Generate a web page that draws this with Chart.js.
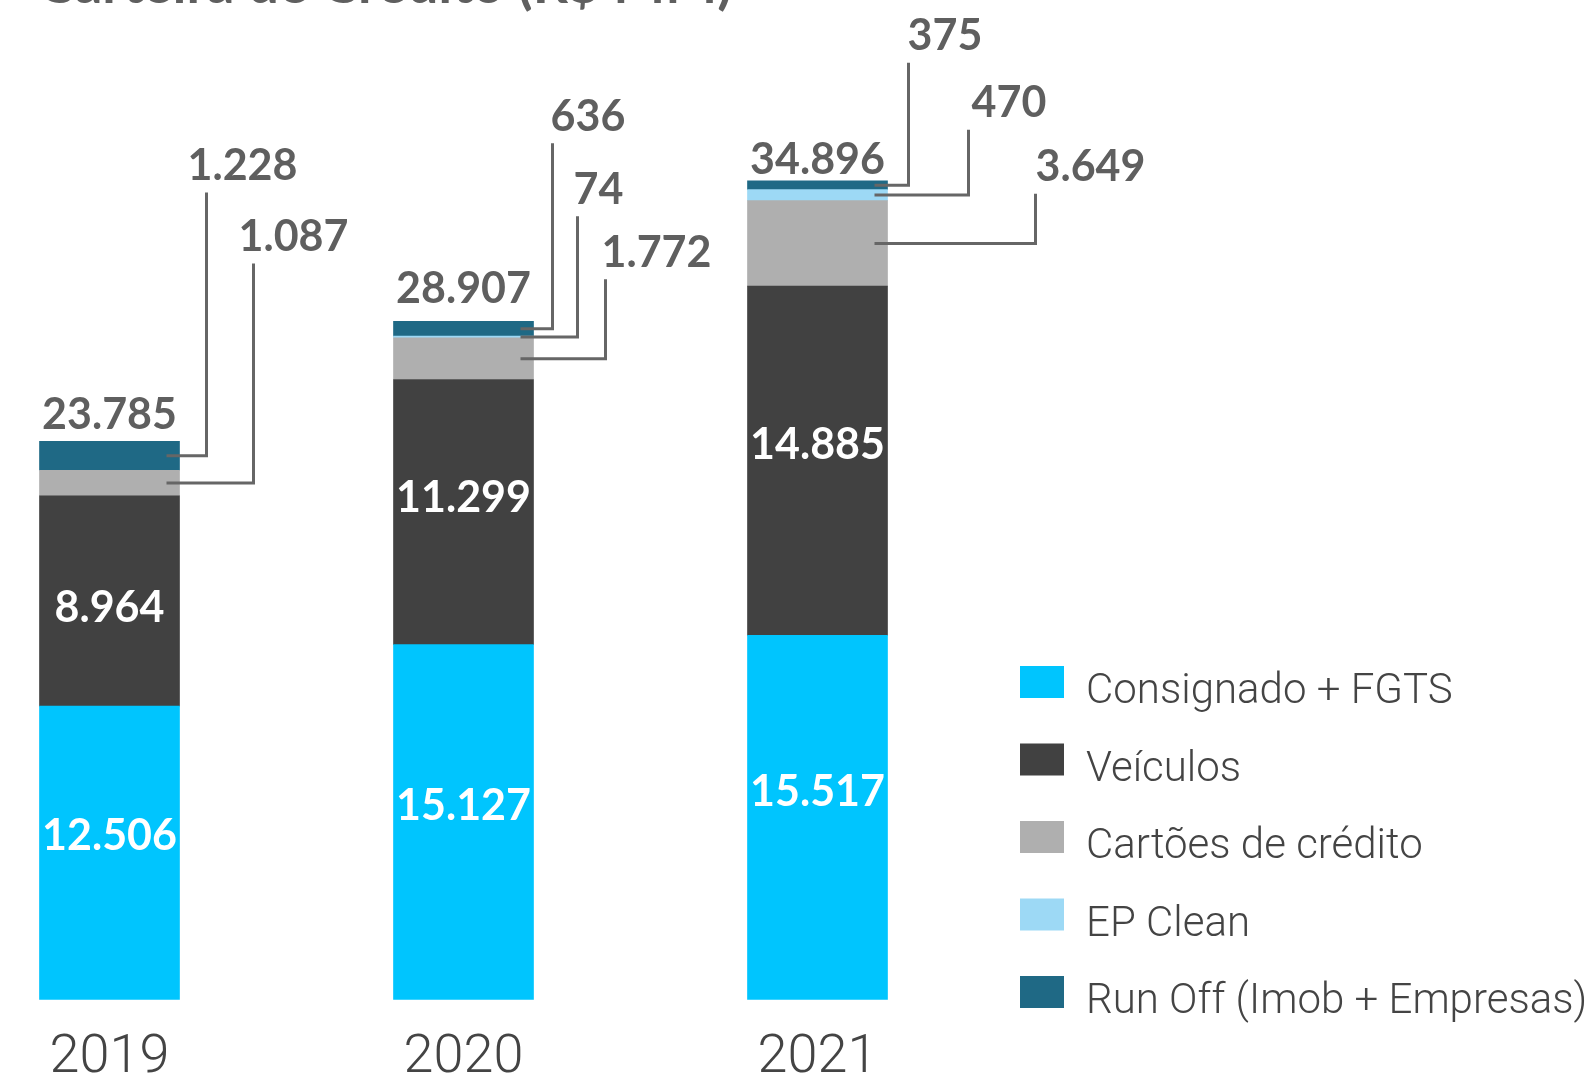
<!DOCTYPE html>
<html><head><meta charset="utf-8">
<style>html,body{margin:0;padding:0;background:#fff;overflow:hidden}
canvas{display:block}</style>
<script src="https://cdn.jsdelivr.net/npm/chart.js@4.4.0/dist/chart.umd.min.js"></script>
</head><body>
<canvas id="c" width="1589" height="1081" style="width:1589px;height:1081px"></canvas>
<script>
// ---- data ----
const years = ['2019', '2020', '2021'];
const seriesNames = ['Consignado + FGTS', 'Veículos', 'Cartões de crédito', 'EP Clean', 'Run Off (Imob + Empresas)'];
const consignado = [12506, 15127, 15517];
const veiculos = [8964, 11299, 14885];
const cartoes = [1087, 1772, 3649];
const epClean = [0, 74, 470];
const runOff = [1228, 636, 375];
const totals = [23785, 28907, 34896];
const chartTitle = 'Carteira de Crédito (R$ MM)';

// ---- style / layout (not data) ----
const colors = ['#00c5fe', '#414141', '#afafaf', '#9dd9f5', '#1f6985'];
const textGray = '#5f5f5f';
const boldFont = 'Lato, "Open Sans", sans-serif';
const lightFont = 'Roboto, "Open Sans", sans-serif';
// leader layout per year: datasetIndex -> [vertical line dx from bar right, label left dx from bar right, label centre dy from stack top]
const leaderLayout = [
  {4: [27, 8, -277], 2: [74, 59, -206]},
  {4: [19, 17, -206], 3: [44, 40, -133], 2: [72, 68, -70]},
  {4: [21, 20, -146], 3: [81, 84, -79], 2: [148, 148, -15]}
];
// vertical nudges of the in-bar labels (relative to segment centre) and totals (relative to stack top)
const innerNudge = [[-18, 6], [-18, -16], [-27, -17]];
const totalNudge = [-28, -34, -22];

const fmt = v => String(v).replace(/\B(?=(\d{3})+(?!\d))/g, '.');
const seriesData = [consignado, veiculos, cartoes, epClean, runOff];

const overlay = {
  id: 'overlay',
  afterDatasetsDraw(chart) {
    const ctx = chart.ctx;
    ctx.save();
    const metas = seriesData.map((_, d) => chart.getDatasetMeta(d));
    const numSize = 43;
    // title (partially cut off at the top)
    ctx.font = `700 55px ${boldFont}`;
    ctx.fillStyle = textGray;
    ctx.textAlign = 'left';
    ctx.textBaseline = 'alphabetic';
    ctx.fillText(chartTitle, 38, 3);

    years.forEach((y, i) => {
      const tops = metas.map(m => m.data[i]).filter((el, d) => seriesData[d][i] > 0).map(el => el.y);
      const stackTop = Math.min(...tops);
      const base = metas[0].data[i];
      const barRight = base.x + base.width / 2;
      ctx.font = `700 ${numSize}px ${boldFont}`;
      // inner labels
      ctx.fillStyle = '#ffffff';
      ctx.textAlign = 'center';
      [0, 1].forEach(d => {
        const el = metas[d].data[i];
        const cy = (el.y + el.base) / 2 + innerNudge[i][d];
        ctx.fillText(fmt(seriesData[d][i]), el.x, cy + numSize * 0.36);
      });
      // total
      ctx.fillStyle = textGray;
      ctx.fillText(fmt(totals[i]), base.x, stackTop + totalNudge[i] + numSize * 0.36);
      // leaders
      const lay = leaderLayout[i];
      [2, 3, 4].forEach(d => {
        if (!(seriesData[d][i] > 0) || !lay[d]) return;
        const el = metas[d].data[i];
        const sy = (el.y + el.base) / 2;
        const [vdx, ldx, ldy] = lay[d];
        const vx = barRight + vdx;
        const ly = stackTop + ldy;
        ctx.strokeStyle = '#666666';
        ctx.lineWidth = 3;
        ctx.lineJoin = 'miter';
        ctx.beginPath();
        ctx.moveTo(barRight - 13, sy);
        ctx.lineTo(vx, sy);
        ctx.lineTo(vx, ly + 28);
        ctx.stroke();
        ctx.fillStyle = textGray;
        ctx.textAlign = 'left';
        ctx.fillText(fmt(seriesData[d][i]), barRight + ldx, ly + numSize * 0.36);
      });
    });

    // legend
    ctx.font = `300 42px ${lightFont}`;
    ctx.textAlign = 'left';
    ctx.textBaseline = 'alphabetic';
    seriesNames.forEach((name, d) => {
      const top = 666 + d * 77.5;
      ctx.fillStyle = colors[d];
      ctx.fillRect(1020, top, 44, 32);
      ctx.fillStyle = '#444444';
      ctx.fillText(name, 1086, top + 37);
    });
    ctx.restore();
  }
};

new Chart(document.getElementById('c'), {
  type: 'bar',
  data: {
    labels: years,
    datasets: seriesData.map((arr, d) => ({
      label: seriesNames[d],
      data: arr,
      backgroundColor: colors[d],
      borderWidth: 0,
      barThickness: 140,
      clip: false
    }))
  },
  options: {
    responsive: false,
    devicePixelRatio: 1,
    animation: false,
    layout: {padding: {left: 109.5, right: 771.5, top: 61, bottom: 1.5}},
    plugins: {legend: {display: false}, tooltip: {enabled: false}, title: {display: false}},
    scales: {
      x: {
        stacked: true,
        offset: false,
        grid: {display: false, drawTicks: false},
        border: {display: false},
        ticks: {color: '#444444', font: {family: lightFont, size: 54, weight: 300, lineHeight: 1.0}, padding: 32, maxRotation: 0, autoSkip: false},
        afterFit(scale) { scale.height = 80; }
      },
      y: {stacked: true, min: 0, max: 40000, display: false}
    }
  },
  plugins: [overlay]
});
</script>
</body></html>
